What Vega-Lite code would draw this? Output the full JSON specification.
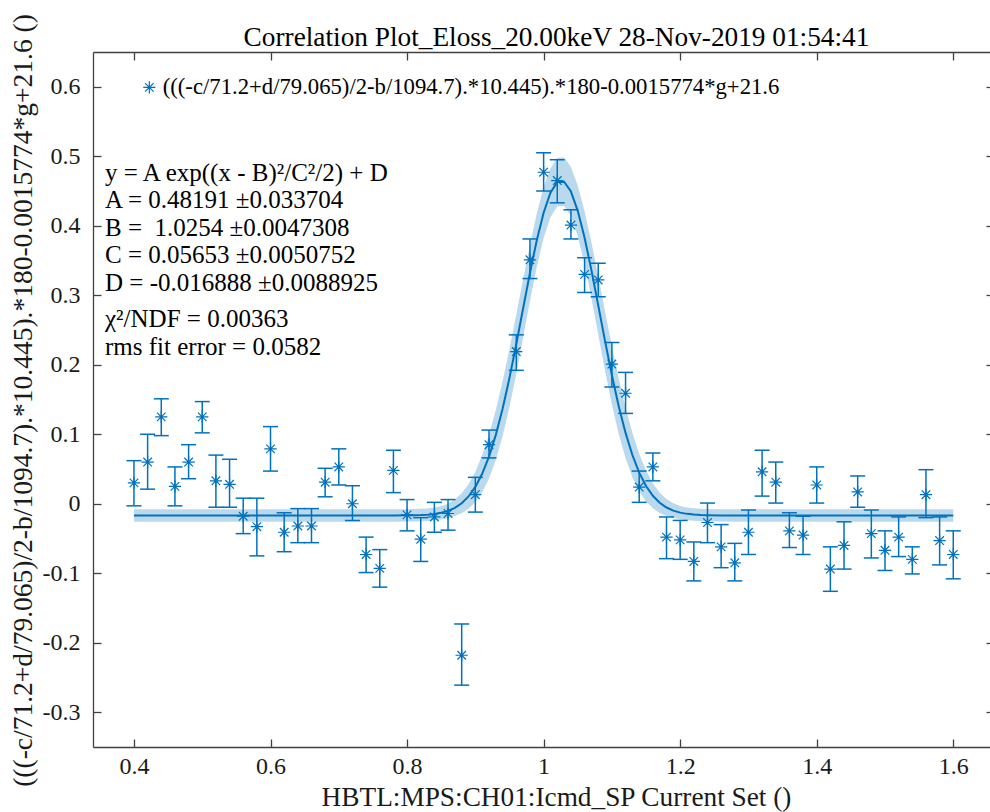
{
  "$schema": "https://vega.github.io/schema/vega-lite/v6.json",
  "width": 897,
  "height": 695,
  "autosize": {"type": "none"},
  "padding": {"left": 93, "top": 52, "right": 0, "bottom": 65},
  "background": "white",
  "config": {"view": {"stroke": null}, "font": "Liberation Serif, Times New Roman, serif"},
  "datasets": {
    "points": [
      {"x": 0.40, "y": 0.030, "lo": -0.003, "hi": 0.062},
      {"x": 0.42, "y": 0.060, "lo": 0.021, "hi": 0.100},
      {"x": 0.44, "y": 0.125, "lo": 0.098, "hi": 0.151},
      {"x": 0.46, "y": 0.025, "lo": -0.003, "hi": 0.053},
      {"x": 0.48, "y": 0.060, "lo": 0.036, "hi": 0.085},
      {"x": 0.50, "y": 0.125, "lo": 0.102, "hi": 0.147},
      {"x": 0.52, "y": 0.033, "lo": -0.005, "hi": 0.070},
      {"x": 0.54, "y": 0.028, "lo": -0.005, "hi": 0.064},
      {"x": 0.56, "y": -0.018, "lo": -0.043, "hi": 0.008},
      {"x": 0.58, "y": -0.033, "lo": -0.075, "hi": 0.008},
      {"x": 0.60, "y": 0.079, "lo": 0.047, "hi": 0.111},
      {"x": 0.62, "y": -0.041, "lo": -0.069, "hi": -0.013},
      {"x": 0.64, "y": -0.032, "lo": -0.056, "hi": -0.007},
      {"x": 0.66, "y": -0.032, "lo": -0.056, "hi": -0.007},
      {"x": 0.68, "y": 0.031, "lo": 0.010, "hi": 0.051},
      {"x": 0.70, "y": 0.053, "lo": 0.027, "hi": 0.079},
      {"x": 0.72, "y": 0.000, "lo": -0.024, "hi": 0.026},
      {"x": 0.74, "y": -0.073, "lo": -0.099, "hi": -0.048},
      {"x": 0.76, "y": -0.093, "lo": -0.120, "hi": -0.066},
      {"x": 0.78, "y": 0.048, "lo": 0.016, "hi": 0.077},
      {"x": 0.80, "y": -0.016, "lo": -0.039, "hi": 0.006},
      {"x": 0.82, "y": -0.051, "lo": -0.083, "hi": -0.020},
      {"x": 0.84, "y": -0.019, "lo": -0.041, "hi": 0.002},
      {"x": 0.86, "y": -0.014, "lo": -0.038, "hi": 0.006},
      {"x": 0.88, "y": -0.218, "lo": -0.261, "hi": -0.173},
      {"x": 0.90, "y": 0.013, "lo": -0.012, "hi": 0.038},
      {"x": 0.92, "y": 0.085, "lo": 0.066, "hi": 0.106},
      {"x": 0.96, "y": 0.219, "lo": 0.192, "hi": 0.243},
      {"x": 0.98, "y": 0.351, "lo": 0.324, "hi": 0.381},
      {"x": 1.00, "y": 0.477, "lo": 0.450, "hi": 0.505},
      {"x": 1.02, "y": 0.465, "lo": 0.433, "hi": 0.495},
      {"x": 1.04, "y": 0.401, "lo": 0.381, "hi": 0.423},
      {"x": 1.06, "y": 0.330, "lo": 0.304, "hi": 0.354},
      {"x": 1.08, "y": 0.322, "lo": 0.298, "hi": 0.346},
      {"x": 1.10, "y": 0.201, "lo": 0.168, "hi": 0.232},
      {"x": 1.12, "y": 0.159, "lo": 0.130, "hi": 0.189},
      {"x": 1.14, "y": 0.024, "lo": 0.002, "hi": 0.047},
      {"x": 1.16, "y": 0.053, "lo": 0.033, "hi": 0.073},
      {"x": 1.18, "y": -0.048, "lo": -0.079, "hi": -0.019},
      {"x": 1.20, "y": -0.052, "lo": -0.080, "hi": -0.024},
      {"x": 1.22, "y": -0.083, "lo": -0.111, "hi": -0.055},
      {"x": 1.24, "y": -0.027, "lo": -0.056, "hi": 0.001},
      {"x": 1.26, "y": -0.062, "lo": -0.092, "hi": -0.030},
      {"x": 1.28, "y": -0.085, "lo": -0.111, "hi": -0.057},
      {"x": 1.30, "y": -0.041, "lo": -0.073, "hi": -0.009},
      {"x": 1.32, "y": 0.046, "lo": 0.011, "hi": 0.077},
      {"x": 1.34, "y": 0.031, "lo": 0.001, "hi": 0.060},
      {"x": 1.36, "y": -0.039, "lo": -0.063, "hi": -0.013},
      {"x": 1.38, "y": -0.045, "lo": -0.073, "hi": -0.018},
      {"x": 1.40, "y": 0.027, "lo": 0.001, "hi": 0.053},
      {"x": 1.42, "y": -0.094, "lo": -0.126, "hi": -0.062},
      {"x": 1.44, "y": -0.060, "lo": -0.094, "hi": -0.026},
      {"x": 1.46, "y": 0.017, "lo": -0.005, "hi": 0.040},
      {"x": 1.48, "y": -0.043, "lo": -0.078, "hi": -0.009},
      {"x": 1.50, "y": -0.067, "lo": -0.096, "hi": -0.039},
      {"x": 1.52, "y": -0.048, "lo": -0.076, "hi": -0.019},
      {"x": 1.54, "y": -0.080, "lo": -0.101, "hi": -0.062},
      {"x": 1.56, "y": 0.013, "lo": -0.020, "hi": 0.049},
      {"x": 1.58, "y": -0.053, "lo": -0.088, "hi": -0.019},
      {"x": 1.60, "y": -0.073, "lo": -0.108, "hi": -0.039}
    ],
    "fit": [
      {"x": 0.40, "fit": -0.0169, "blo": -0.0258, "bhi": -0.0080},
      {"x": 0.50, "fit": -0.0169, "blo": -0.0258, "bhi": -0.0080},
      {"x": 0.60, "fit": -0.0169, "blo": -0.0258, "bhi": -0.0080},
      {"x": 0.70, "fit": -0.0169, "blo": -0.0258, "bhi": -0.0080},
      {"x": 0.75, "fit": -0.0169, "blo": -0.0258, "bhi": -0.0080},
      {"x": 0.78, "fit": -0.01685, "blo": -0.02575, "bhi": -0.00795},
      {"x": 0.80, "fit": -0.01672, "blo": -0.02562, "bhi": -0.00782},
      {"x": 0.81, "fit": -0.01655, "blo": -0.02545, "bhi": -0.00765},
      {"x": 0.82, "fit": -0.01623, "blo": -0.02513, "bhi": -0.00733},
      {"x": 0.83, "fit": -0.01566, "blo": -0.02466, "bhi": -0.00666},
      {"x": 0.84, "fit": -0.01467, "blo": -0.02387, "bhi": -0.00547},
      {"x": 0.85, "fit": -0.01298, "blo": -0.02258, "bhi": -0.00338},
      {"x": 0.86, "fit": -0.01022, "blo": -0.02062, "bhi": 0.00018},
      {"x": 0.87, "fit": -0.00587, "blo": -0.01777, "bhi": 0.00603},
      {"x": 0.88, "fit": 0.00075, "blo": -0.01365, "bhi": 0.01515},
      {"x": 0.89, "fit": 0.01048, "blo": -0.00722, "bhi": 0.02818},
      {"x": 0.90, "fit": 0.02427, "blo": 0.00237, "bhi": 0.04617},
      {"x": 0.91, "fit": 0.04310, "blo": 0.01650, "bhi": 0.06970},
      {"x": 0.92, "fit": 0.06785, "blo": 0.03635, "bhi": 0.09935},
      {"x": 0.93, "fit": 0.09913, "blo": 0.06313, "bhi": 0.13513},
      {"x": 0.94, "fit": 0.13706, "blo": 0.09736, "bhi": 0.17676},
      {"x": 0.95, "fit": 0.18109, "blo": 0.13909, "bhi": 0.22309},
      {"x": 0.96, "fit": 0.22990, "blo": 0.18710, "bhi": 0.27270},
      {"x": 0.97, "fit": 0.28125, "blo": 0.23915, "bhi": 0.32335},
      {"x": 0.98, "fit": 0.33217, "blo": 0.29177, "bhi": 0.37257},
      {"x": 0.99, "fit": 0.37922, "blo": 0.34092, "bhi": 0.41752},
      {"x": 1.00, "fit": 0.41875, "blo": 0.38225, "bhi": 0.45525},
      {"x": 1.01, "fit": 0.44746, "blo": 0.41206, "bhi": 0.48286},
      {"x": 1.02, "fit": 0.46283, "blo": 0.42793, "bhi": 0.49773},
      {"x": 1.03, "fit": 0.46343, "blo": 0.42853, "bhi": 0.49833},
      {"x": 1.04, "fit": 0.44921, "blo": 0.41381, "bhi": 0.48461},
      {"x": 1.05, "fit": 0.42148, "blo": 0.38508, "bhi": 0.45788},
      {"x": 1.06, "fit": 0.38270, "blo": 0.34450, "bhi": 0.42090},
      {"x": 1.07, "fit": 0.33613, "blo": 0.29593, "bhi": 0.37633},
      {"x": 1.08, "fit": 0.28538, "blo": 0.24338, "bhi": 0.32738},
      {"x": 1.09, "fit": 0.23395, "blo": 0.19115, "bhi": 0.27675},
      {"x": 1.10, "fit": 0.18484, "blo": 0.14274, "bhi": 0.22694},
      {"x": 1.11, "fit": 0.14038, "blo": 0.10048, "bhi": 0.18028},
      {"x": 1.12, "fit": 0.10192, "blo": 0.06552, "bhi": 0.13832},
      {"x": 1.13, "fit": 0.07010, "blo": 0.03820, "bhi": 0.10200},
      {"x": 1.14, "fit": 0.04484, "blo": 0.01784, "bhi": 0.07184},
      {"x": 1.15, "fit": 0.02558, "blo": 0.00328, "bhi": 0.04788},
      {"x": 1.16, "fit": 0.01141, "blo": -0.00659, "bhi": 0.02941},
      {"x": 1.17, "fit": 0.00140, "blo": -0.01320, "bhi": 0.01600},
      {"x": 1.18, "fit": -0.00543, "blo": -0.01753, "bhi": 0.00667},
      {"x": 1.19, "fit": -0.00994, "blo": -0.02044, "bhi": 0.00056},
      {"x": 1.20, "fit": -0.01280, "blo": -0.02240, "bhi": -0.00320},
      {"x": 1.21, "fit": -0.01456, "blo": -0.02376, "bhi": -0.00536},
      {"x": 1.22, "fit": -0.01560, "blo": -0.02460, "bhi": -0.00660},
      {"x": 1.23, "fit": -0.01620, "blo": -0.02510, "bhi": -0.00730},
      {"x": 1.24, "fit": -0.01653, "blo": -0.02543, "bhi": -0.00763},
      {"x": 1.26, "fit": -0.01680, "blo": -0.02570, "bhi": -0.00790},
      {"x": 1.30, "fit": -0.01689, "blo": -0.02579, "bhi": -0.00799},
      {"x": 1.40, "fit": -0.0169, "blo": -0.0258, "bhi": -0.0080},
      {"x": 1.50, "fit": -0.0169, "blo": -0.0258, "bhi": -0.0080},
      {"x": 1.60, "fit": -0.0169, "blo": -0.0258, "bhi": -0.0080}
    ]
  },
  "resolve": {"axis": {"x": "independent", "y": "independent"}},
  "layer": [
    {
      "data": {"name": "fit"},
      "mark": {"type": "area", "color": "#0072BD", "opacity": 0.27},
      "encoding": {
        "x": {
          "field": "x", "type": "quantitative",
          "scale": {"domain": [0.34, 1.6538], "nice": false, "zero": false},
          "axis": {
            "orient": "bottom",
            "values": [0.4, 0.6, 0.8, 1, 1.2, 1.4, 1.6],
            "format": "~g",
            "grid": false,
            "domainColor": "#404040", "domainWidth": 1.3,
            "tickColor": "#404040", "tickWidth": 1.3, "tickSize": -8,
            "labelFont": "Liberation Serif, Times New Roman, serif", "labelFontSize": 24, "labelColor": "#1a1a1a",
            "labelBaseline": "alphabetic", "labelPadding": 34,
            "title": "HBTL:MPS:CH01:Icmd_SP Current Set ()",
            "titleFont": "Liberation Serif, Times New Roman, serif", "titleFontSize": 27.3, "titleFontWeight": "normal", "titleColor": "#1a1a1a",
            "titleX": 463, "titleY": 58, "titleBaseline": "alphabetic", "titleAlign": "center"
          }
        },
        "y": {
          "field": "blo", "type": "quantitative",
          "scale": {"domain": [-0.35, 0.65], "nice": false, "zero": false},
          "axis": {
            "orient": "left",
            "values": [-0.3, -0.2, -0.1, 0, 0.1, 0.2, 0.3, 0.4, 0.5, 0.6],
            "labelExpr": "replace(format(datum.value, '~g'), '\u2212', '-')",
            "grid": false,
            "domainColor": "#404040", "domainWidth": 1.3,
            "tickColor": "#404040", "tickWidth": 1.3, "tickSize": -8,
            "labelFont": "Liberation Serif, Times New Roman, serif", "labelFontSize": 24, "labelColor": "#1a1a1a",
            "labelPadding": 21,
            "title": "(((-c/71.2+d/79.065)/2-b/1094.7).*10.445).*180-0.0015774*g+21.6 ()",
            "titleFont": "Liberation Serif, Times New Roman, serif", "titleFontSize": 27.5, "titleFontWeight": "normal", "titleColor": "#1a1a1a",
            "titleX": -70, "titleY": 348, "titleAngle": 270, "titleBaseline": "middle", "titleAlign": "center"
          }
        },
        "y2": {"field": "bhi"}
      }
    },
    {
      "data": {"name": "fit"},
      "mark": {"type": "line", "color": "#0072BD", "strokeWidth": 2},
      "encoding": {
        "x": {
          "field": "x", "type": "quantitative",
          "scale": {"domain": [0.34, 1.6538], "nice": false, "zero": false},
          "axis": {
            "orient": "top",
            "values": [0.4, 0.6, 0.8, 1, 1.2, 1.4, 1.6],
            "labels": false, "grid": false,
            "domainColor": "#404040", "domainWidth": 1.3,
            "tickColor": "#404040", "tickWidth": 1.3, "tickSize": -8,
            "title": "Correlation Plot_Eloss_20.00keV 28-Nov-2019 01:54:41",
            "titleFont": "Liberation Serif, Times New Roman, serif", "titleFontSize": 27.3, "titleFontWeight": "normal", "titleColor": "#000000",
            "titleX": 463, "titleY": -7, "titleBaseline": "alphabetic", "titleAlign": "center"
          }
        },
        "y": {
          "field": "fit", "type": "quantitative",
          "scale": {"domain": [-0.35, 0.65], "nice": false, "zero": false},
          "axis": {
            "orient": "right",
            "values": [-0.3, -0.2, -0.1, 0, 0.1, 0.2, 0.3, 0.4, 0.5, 0.6],
            "labels": false, "grid": false, "title": null, "domain": false,
            "offset": 4,
            "tickColor": "#404040", "tickWidth": 1.3, "tickSize": -8
          }
        }
      }
    },
    {
      "data": {"name": "points"},
      "mark": {"type": "rule", "color": "#0072BD", "strokeWidth": 1.5},
      "encoding": {
        "x": {"field": "x", "type": "quantitative", "axis": null},
        "y": {"field": "lo", "type": "quantitative", "axis": null},
        "y2": {"field": "hi"}
      }
    },
    {
      "data": {"name": "points"},
      "mark": {"type": "tick", "orient": "horizontal", "color": "#0072BD", "size": 15, "thickness": 1.5, "opacity": 1},
      "encoding": {
        "x": {"field": "x", "type": "quantitative", "axis": null},
        "y": {"field": "lo", "type": "quantitative", "axis": null}
      }
    },
    {
      "data": {"name": "points"},
      "mark": {"type": "tick", "orient": "horizontal", "color": "#0072BD", "size": 15, "thickness": 1.5, "opacity": 1},
      "encoding": {
        "x": {"field": "x", "type": "quantitative", "axis": null},
        "y": {"field": "hi", "type": "quantitative", "axis": null}
      }
    },
    {
      "data": {"name": "points"},
      "mark": {
        "type": "point",
        "shape": "M0,-1L0,1M-1,0L1,0M-0.7,-0.7L0.7,0.7M-0.7,0.7L0.7,-0.7",
        "filled": false, "size": 150, "strokeWidth": 1.2, "opacity": 1
      },
      "encoding": {
        "x": {"field": "x", "type": "quantitative", "axis": null},
        "y": {"field": "y", "type": "quantitative", "axis": null},
        "color": {
          "datum": "(((-c/71.2+d/79.065)/2-b/1094.7).*10.445).*180-0.0015774*g+21.6",
          "type": "nominal",
          "scale": {"range": ["#0072BD"]},
          "legend": {
            "orient": "none", "legendX": 45, "legendY": 24,
            "title": null, "padding": 0,
            "symbolType": "M0,-1L0,1M-1,0L1,0M-0.7,-0.7L0.7,0.7M-0.7,0.7L0.7,-0.7",
            "symbolSize": 150, "symbolStrokeWidth": 1.2, "symbolFillColor": "transparent", "symbolStrokeColor": "#0072BD",
            "labelFont": "Liberation Serif, Times New Roman, serif", "labelFontSize": 22.7, "labelColor": "#000000",
            "labelOffset": 2, "labelLimit": 1000
          }
        }
      }
    },
    {
      "data": {"values": [{}]},
      "mark": {
        "type": "text", "align": "left", "baseline": "alphabetic",
        "font": "Liberation Serif, Times New Roman, serif", "fontSize": 25, "color": "#000000", "lineHeight": 27.4,
        "text": ["y = A exp((x - B)²/C²/2) + D", "A = 0.48191 ±0.033704", "B = \u00a01.0254 ±0.0047308", "C = 0.05653 ±0.0050752", "D = -0.016888 ±0.0088925"]
      },
      "encoding": {
        "x": {"datum": 0.3576, "type": "quantitative", "axis": null},
        "y": {"datum": 0.4645, "type": "quantitative", "axis": null}
      }
    },
    {
      "data": {"values": [{}]},
      "mark": {
        "type": "text", "align": "left", "baseline": "alphabetic",
        "font": "Liberation Serif, Times New Roman, serif", "fontSize": 25, "color": "#000000", "lineHeight": 28.3,
        "text": ["χ²/NDF = 0.00363", "rms fit error = 0.0582"]
      },
      "encoding": {
        "x": {"datum": 0.3576, "type": "quantitative", "axis": null},
        "y": {"datum": 0.2544, "type": "quantitative", "axis": null}
      }
    }
  ]
}
